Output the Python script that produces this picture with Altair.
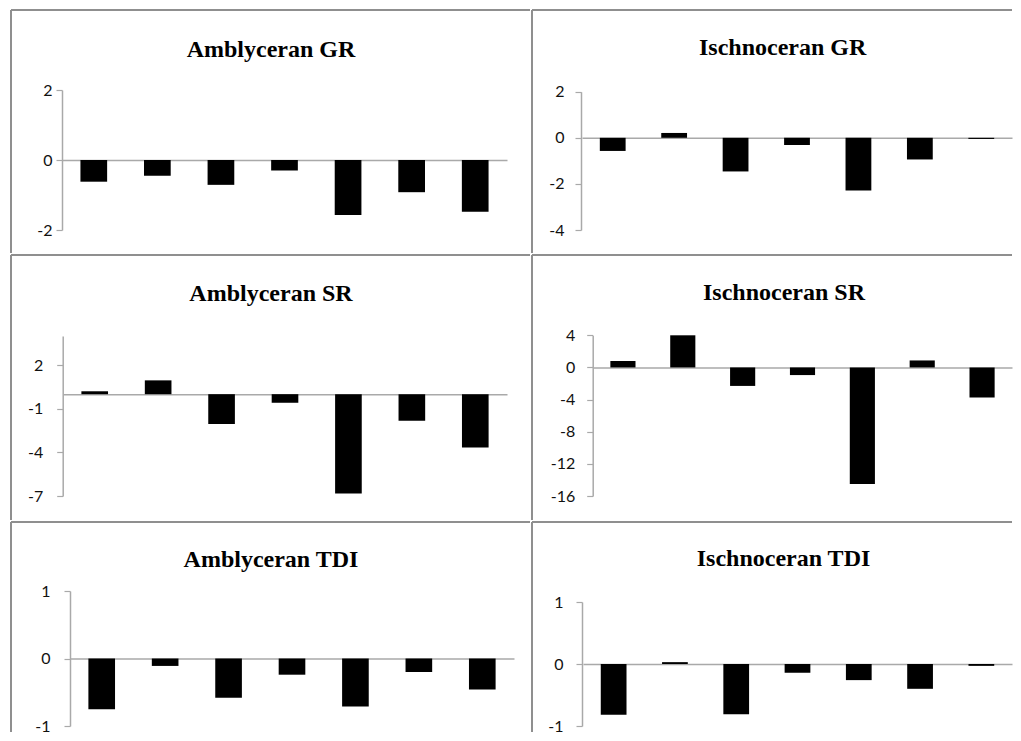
import altair as alt
import pandas as pd

# ---- data ----
categories = ["1", "2", "3", "4", "5", "6", "7"]
amblyceran_gr = [-0.62, -0.45, -0.71, -0.30, -1.57, -0.92, -1.48]
ischnoceran_gr = [-0.57, 0.21, -1.46, -0.31, -2.29, -0.94, -0.05]
amblyceran_sr = [0.20, 0.95, -2.05, -0.59, -6.82, -1.82, -3.66]
ischnoceran_sr = [0.80, 4.00, -2.30, -0.95, -14.50, 0.87, -3.73]
amblyceran_tdi = [-0.75, -0.11, -0.58, -0.24, -0.71, -0.20, -0.46]
ischnoceran_tdi = [-0.82, 0.03, -0.81, -0.14, -0.26, -0.40, -0.03]

tick_gr_a = [-2, 0, 2]
tick_gr_i = [-4, -2, 0, 2]
tick_sr_a = [-7, -4, -1, 2]
tick_sr_i = [-16, -12, -8, -4, 0, 4]
tick_tdi = [-1, 0, 1]

BORDER = "#8f8f8f"
AXIS = "#a9a9a9"


def panel(title, values, width, height, axis_x, band, y_domain, y_px, ticks,
          title_x, title_base, label_pad):
    df = pd.DataFrame({"cat": categories, "val": values})
    y0 = y_px[0] + (0 - y_domain[0]) / (y_domain[1] - y_domain[0]) * (y_px[1] - y_px[0])
    x_enc = alt.X(
        "cat:N", sort=categories,
        scale=alt.Scale(range=band, paddingInner=0.58, paddingOuter=0.29),
        axis=alt.Axis(labels=False, ticks=False, title=None, grid=False,
                      domainColor=AXIS, domainWidth=1.5, offset=y0 - height),
    )
    y_enc = alt.Y(
        "val:Q",
        scale=alt.Scale(domain=y_domain, range=y_px, nice=False),
        axis=alt.Axis(values=ticks, title=None, grid=False, offset=-axis_x,
                      domainColor=AXIS, domainWidth=1.5, tickColor=AXIS,
                      tickWidth=1.2, tickSize=6, labelPadding=label_pad,
                      labelFont="Lato", labelFontSize=16, labelColor="#111111",
                      labelExpr="datum.value + ''"),
    )
    bars = alt.Chart(df).mark_bar(color="black").encode(x=x_enc, y=y_enc)
    one = alt.InlineData(values=[{"k": 0}])
    top = alt.Chart(one).mark_rule(color=BORDER, strokeWidth=2).encode(
        x=alt.value(0), x2=alt.value(width), y=alt.value(0))
    left = alt.Chart(one).mark_rule(color=BORDER, strokeWidth=2).encode(
        x=alt.value(0), y=alt.value(0), y2=alt.value(height))
    head = alt.Chart(one).mark_text(
        font="Liberation Serif", fontSize=24, fontWeight="bold", color="black",
        align="center", baseline="alphabetic",
    ).encode(text=alt.value(title), x=alt.value(title_x), y=alt.value(title_base))
    return alt.layer(bars, top, left, head).properties(width=width, height=height)


WL, WR = 519, 480
H0, H1, H2 = 243, 265, 210

p00 = panel("Amblyceran GR", amblyceran_gr, WL, H0, 51, [51, 496], [-2, 2], [220, 80],
            tick_gr_a, 260, 47, 4)
p01 = panel("Ischnoceran GR", ischnoceran_gr, WR, H0, 49, [50, 480], [-4, 2], [220, 81.7],
            tick_gr_i, 250.7, 45, 11)
p10 = panel("Amblyceran SR", amblyceran_sr, WL, H1, 51.7, [52, 496], [-7, 4], [241, 81],
            tick_sr_a, 260, 46, 14)
p11 = panel("Ischnoceran SR", ischnoceran_sr, WR, H1, 60.7, [61, 480], [-16, 4], [241, 80.3],
            tick_sr_i, 252, 45, 12)
p20 = panel("Amblyceran TDI", amblyceran_tdi, WL, H2, 59, [59, 503], [-1, 1], [204, 69],
            tick_tdi, 260, 45, 14)
p21 = panel("Ischnoceran TDI", ischnoceran_tdi, WR, H2, 50, [51, 480], [-1, 1], [204, 80],
            tick_tdi, 251.5, 44, 13)

chart = alt.vconcat(
    alt.hconcat(p00, p01, spacing=0),
    alt.hconcat(p10, p11, spacing=0),
    alt.hconcat(p20, p21, spacing=0),
    spacing=0,
).properties(
    padding={"left": 2, "top": 1, "right": 0, "bottom": 0},
    background="white",
).configure_view(stroke="transparent", strokeWidth=0).configure_concat(spacing=0)

chart.save("out.html", embed_options={"renderer": "svg", "actions": False})
